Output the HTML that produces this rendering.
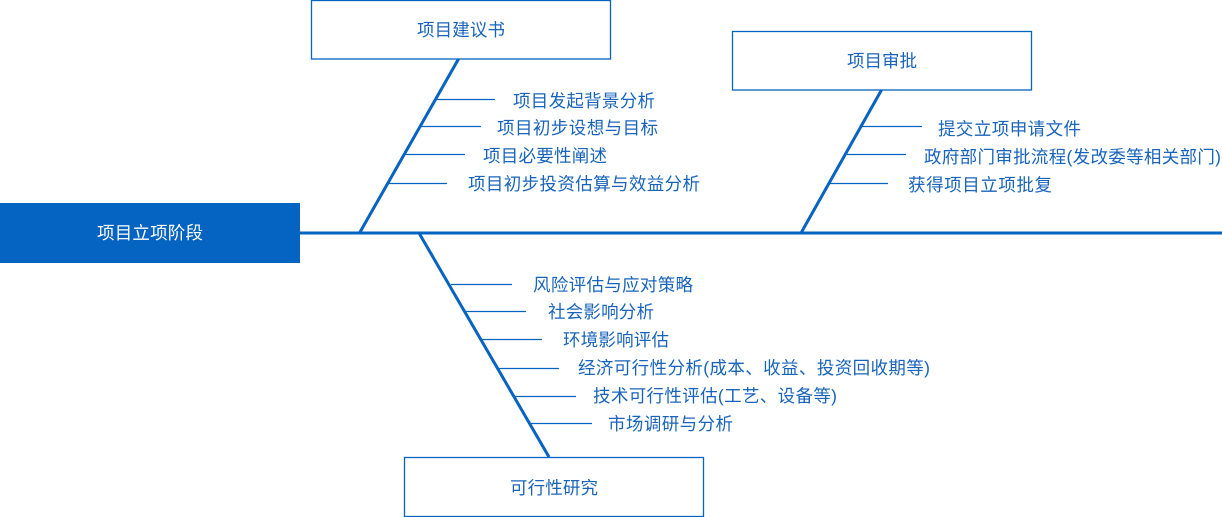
<!DOCTYPE html>
<html>
<head>
<meta charset="utf-8">
<style>
html,body{margin:0;padding:0;background:#fff;}
body{width:1222px;height:517px;overflow:hidden;}
svg{display:block;}
text{font-family:"Liberation Sans","Noto Sans CJK SC",sans-serif;font-size:17.5px;fill:#1864bb;dominant-baseline:central;}
</style>
</head>
<body>
<svg width="1222" height="517" viewBox="0 0 1222 517" xmlns="http://www.w3.org/2000/svg">
  <!-- spine -->
  <line x1="300" y1="233" x2="1222" y2="233" stroke="#0563C1" stroke-width="3"/>
  <!-- head box -->
  <rect x="0" y="203" width="300" height="60" fill="#0563C1"/>
  <text x="150" y="233" text-anchor="middle" style="fill:#ffffff" textLength="106" lengthAdjust="spacing">项目立项阶段</text>

  <!-- Box 1 -->
  <rect x="311.5" y="0.5" width="299" height="58.5" fill="#fff" stroke="#0563C1" stroke-width="1.3"/>
  <text x="417" y="30" textLength="88" lengthAdjust="spacing">项目建议书</text>
  <line x1="458.5" y1="59" x2="359.5" y2="233" stroke="#0563C1" stroke-width="3"/>
  <g stroke="#0563C1" stroke-width="1.2">
    <line x1="436" y1="99.5" x2="495" y2="99.5"/>
    <line x1="420" y1="126.5" x2="481" y2="126.5"/>
    <line x1="404" y1="154.5" x2="465" y2="154.5"/>
    <line x1="388" y1="183.5" x2="447" y2="183.5"/>
  </g>
  <text x="513" y="101" textLength="142" lengthAdjust="spacing">项目发起背景分析</text>
  <text x="497" y="128" textLength="161" lengthAdjust="spacing">项目初步设想与目标</text>
  <text x="483" y="156" textLength="124" lengthAdjust="spacing">项目必要性阐述</text>
  <text x="468" y="184" textLength="232" lengthAdjust="spacing">项目初步投资估算与效益分析</text>

  <!-- Box 2 -->
  <rect x="732.5" y="31.5" width="299" height="58.5" fill="#fff" stroke="#0563C1" stroke-width="1.3"/>
  <text x="847" y="61" textLength="70" lengthAdjust="spacing">项目审批</text>
  <line x1="881.5" y1="90" x2="801" y2="233" stroke="#0563C1" stroke-width="3"/>
  <g stroke="#0563C1" stroke-width="1.2">
    <line x1="862" y1="126.5" x2="922" y2="126.5"/>
    <line x1="847" y1="154.5" x2="906" y2="154.5"/>
    <line x1="830" y1="183.5" x2="888" y2="183.5"/>
  </g>
  <text x="938" y="129" textLength="143" lengthAdjust="spacing">提交立项申请文件</text>
  <text x="924" y="157" textLength="297" lengthAdjust="spacing">政府部门审批流程(发改委等相关部门)</text>
  <text x="908" y="185" textLength="144" lengthAdjust="spacing">获得项目立项批复</text>

  <!-- Box 3 -->
  <line x1="419" y1="233" x2="549" y2="457" stroke="#0563C1" stroke-width="3"/>
  <rect x="404.5" y="457.5" width="299" height="59" fill="#fff" stroke="#0563C1" stroke-width="1.3"/>
  <text x="510" y="488" textLength="88" lengthAdjust="spacing">可行性研究</text>
  <g stroke="#0563C1" stroke-width="1.2">
    <line x1="451" y1="284.5" x2="512" y2="284.5"/>
    <line x1="465" y1="311.5" x2="526" y2="311.5"/>
    <line x1="482" y1="339.5" x2="542" y2="339.5"/>
    <line x1="498" y1="368.5" x2="559" y2="368.5"/>
    <line x1="514" y1="396.5" x2="576" y2="396.5"/>
    <line x1="530" y1="423.5" x2="592" y2="423.5"/>
  </g>
  <text x="533" y="285" textLength="160" lengthAdjust="spacing">风险评估与应对策略</text>
  <text x="548" y="312" textLength="106" lengthAdjust="spacing">社会影响分析</text>
  <text x="563" y="340" textLength="106" lengthAdjust="spacing">环境影响评估</text>
  <text x="578" y="368" textLength="352" lengthAdjust="spacing">经济可行性分析(成本、收益、投资回收期等)</text>
  <text x="593" y="396" textLength="244" lengthAdjust="spacing">技术可行性评估(工艺、设备等)</text>
  <text x="608" y="424" textLength="125" lengthAdjust="spacing">市场调研与分析</text>
</svg>
</body>
</html>
